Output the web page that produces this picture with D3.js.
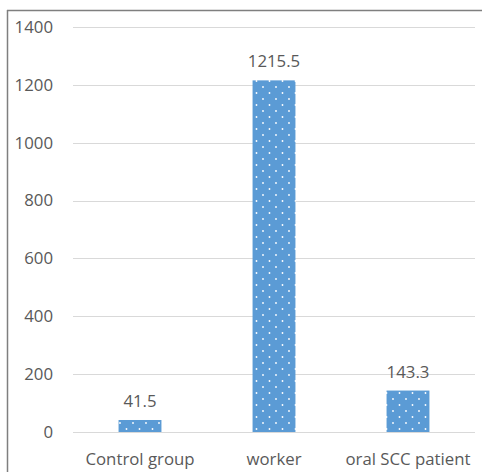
<!DOCTYPE html>
<html>
<head>
<meta charset="utf-8">
<script src="https://cdn.jsdelivr.net/npm/d3@7"></script>
<style>
  body { margin: 0; background: #fff; }
  svg text { font-family: "Open Sans", "Liberation Sans", sans-serif; fill: #595959; }
</style>
</head>
<body>
<div id="chart"></div>
<script>
const width = 482;
const height = 472;

// data
const categories = ["Control group", "worker", "oral SCC patient"];
const values = [41.5, 1215.5, 143.3];
const yTicks = [0, 200, 400, 600, 800, 1000, 1200, 1400];

const margin = { top: 27, right: 7, bottom: 40, left: 73 };
const fontSize = 16.8;

const svg = d3.select("#chart").append("svg")
  .attr("width", width)
  .attr("height", height);

// dotted fill
const pat = svg.append("defs").append("pattern")
  .attr("id", "dots")
  .attr("patternUnits", "userSpaceOnUse")
  .attr("width", 13)
  .attr("height", 12);
pat.append("rect").attr("width", 13).attr("height", 12).attr("fill", "#5b9bd5");
pat.append("circle").attr("cx", 3).attr("cy", 3).attr("r", 0.9).attr("fill", "#fff");
pat.append("circle").attr("cx", 9.5).attr("cy", 9).attr("r", 0.9).attr("fill", "#fff");

// outer frame (top and left edges visible)
svg.append("line").attr("x1", 7).attr("x2", width).attr("y1", 10.5).attr("y2", 10.5)
  .attr("stroke", "#7f7f7f").attr("stroke-width", 1.5);
svg.append("line").attr("x1", 7.5).attr("x2", 7.5).attr("y1", 10).attr("y2", height)
  .attr("stroke", "#7f7f7f").attr("stroke-width", 1.5);

const x = d3.scaleBand()
  .domain(categories)
  .range([margin.left, width - margin.right])
  .paddingInner(0.68)
  .paddingOuter(0.34);

const y = d3.scaleLinear()
  .domain([0, 1400])
  .range([height - margin.bottom, margin.top]);

// gridlines
svg.append("g")
  .selectAll("line")
  .data(yTicks)
  .join("line")
  .attr("x1", margin.left)
  .attr("x2", width - margin.right)
  .attr("y1", d => Math.round(y(d)) + 0.5)
  .attr("y2", d => Math.round(y(d)) + 0.5)
  .attr("stroke", "#d9d9d9")
  .attr("stroke-width", 1);

// y labels
svg.append("g")
  .selectAll("text")
  .data(yTicks)
  .join("text")
  .attr("x", 53)
  .attr("y", d => y(d))
  .attr("dy", "0.35em")
  .attr("text-anchor", "end")
  .attr("font-size", fontSize)
  .text(d => d);

// bars
svg.append("g")
  .selectAll("rect")
  .data(values)
  .join("rect")
  .attr("x", (d, i) => x(categories[i]))
  .attr("y", d => y(d))
  .attr("width", x.bandwidth())
  .attr("height", d => y(0) - y(d))
  .attr("fill", "url(#dots)");

// value labels
svg.append("g")
  .selectAll("text")
  .data(values)
  .join("text")
  .attr("x", (d, i) => x(categories[i]) + x.bandwidth() / 2)
  .attr("y", d => y(d) - 13)
  .attr("text-anchor", "middle")
  .attr("font-size", fontSize)
  .text(d => d.toFixed(1));

// category labels
svg.append("g")
  .selectAll("text")
  .data(categories)
  .join("text")
  .attr("x", d => x(d) + x.bandwidth() / 2)
  .attr("y", 465)
  .attr("text-anchor", "middle")
  .attr("font-size", fontSize)
  .text(d => d);
</script>
</body>
</html>
